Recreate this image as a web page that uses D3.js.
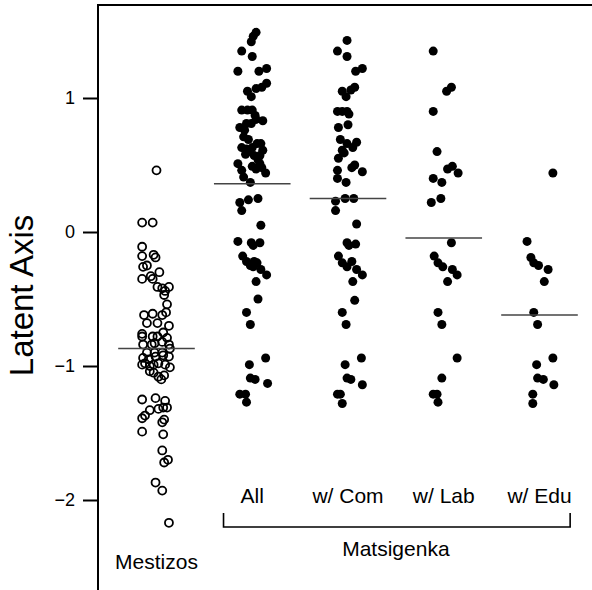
<!DOCTYPE html>
<html>
<head>
<meta charset="utf-8">
<script src="https://cdn.jsdelivr.net/npm/d3@7"></script>
<style>
  body { margin: 0; background: #fff; }
  svg { display: block; font-family: "Liberation Sans", Arial, sans-serif; }
</style>
</head>
<body>
<svg id="chart" width="592" height="590"></svg>
<script>
///////// Data (value on the latent axis, horizontal jitter in group units)
var groupLabels = ["Mestizos", "All", "w/ Com", "w/ Lab", "w/ Edu"]
var groupMeans = [-0.87, 0.36, 0.25, -0.045, -0.62]
var yTicks = [-2, -1, 0, 1]

var mestizoValue = [0.46,0.07,0.07,-0.11,-0.18,-0.17,-0.19,-0.26,-0.25,-0.30,
    -0.33,-0.35,-0.35,-0.41,-0.42,-0.41,-0.44,-0.47,-0.54,-0.62,
    -0.61,-0.62,-0.60,-0.68,-0.68,-0.70,-0.76,-0.78,-0.78,-0.78,
    -0.75,-0.79,-0.84,-0.84,-0.83,-0.82,-0.84,-0.87,-0.90,-0.90,
    -0.90,-0.94,-0.95,-0.93,-0.92,-0.93,-0.99,-0.98,-1.00,-0.99,
    -0.98,-0.99,-1.01,-1.04,-1.05,-1.08,-1.10,-1.07,-1.25,-1.24,
    -1.26,-1.31,-1.31,-1.32,-1.33,-1.37,-1.39,-1.42,-1.40,-1.49,
    -1.51,-1.63,-1.70,-1.72,-1.87,-1.93,-2.17]
var mestizoJitter = [0.00,-0.15,-0.04,-0.15,-0.15,-0.03,-0.01,-0.14,-0.10,0.03,
    -0.06,-0.15,-0.04,0.01,0.06,0.13,0.09,0.08,0.11,-0.13,
    -0.04,0.06,0.10,-0.10,0.01,0.13,-0.15,-0.15,-0.04,0.01,
    0.07,0.11,-0.14,-0.05,-0.02,0.06,0.13,0.14,-0.10,-0.02,
    0.06,-0.14,-0.08,-0.01,0.07,0.13,-0.15,-0.12,-0.07,-0.03,
    0.02,0.09,0.14,-0.07,-0.03,0.02,0.05,0.08,-0.15,-0.01,
    0.09,0.11,0.07,0.02,-0.07,-0.12,-0.15,0.06,0.08,-0.15,
    0.07,0.06,0.12,0.08,-0.01,0.06,0.13]

var allValue = [1.49,1.46,1.42,1.35,1.31,1.20,1.20,1.22,1.11,1.08,
    1.07,1.05,1.01,0.91,0.91,0.91,0.87,0.78,0.81,0.81,
    0.84,0.83,0.76,0.71,0.69,0.63,0.62,0.63,0.66,0.66,
    0.60,0.57,0.61,0.57,0.58,0.51,0.46,0.41,0.37,0.54,
    0.51,0.47,0.44,0.48,0.49,0.22,0.16,0.24,0.25,0.05,
    -0.07,-0.08,-0.10,-0.08,-0.18,-0.22,-0.25,-0.22,-0.23,-0.26,
    -0.28,-0.32,-0.37,-0.50,-0.60,-0.69,-0.94,-0.99,-1.09,-1.10,
    -1.13,-1.21,-1.21,-1.27]
var allJitter = [0.04,0.01,-0.01,-0.11,0.00,-0.15,0.07,0.15,0.15,0.10,
    0.04,-0.05,-0.01,-0.11,-0.05,0.00,0.03,-0.13,-0.06,-0.01,
    0.04,0.11,-0.08,-0.09,-0.04,-0.11,-0.06,0.00,0.05,0.09,
    -0.03,0.02,0.11,0.08,-0.07,-0.15,-0.11,-0.09,-0.02,0.06,
    0.08,0.04,0.14,0.10,0.00,-0.13,-0.11,-0.04,0.06,0.09,
    -0.15,-0.01,0.01,0.08,-0.10,-0.06,-0.02,0.02,0.05,0.01,
    0.09,0.15,0.04,0.06,-0.06,-0.02,0.14,-0.03,-0.02,0.03,
    0.16,-0.13,-0.07,-0.06]

var comValue = [1.43,1.35,1.31,1.20,1.22,1.05,1.08,1.06,1.01,0.90,
    0.90,0.90,0.88,0.78,0.80,0.69,0.66,0.67,0.61,0.59,
    0.63,0.55,0.50,0.45,0.48,0.46,0.40,0.37,0.23,0.25,
    0.25,0.16,0.06,-0.08,-0.10,-0.09,-0.18,-0.23,-0.26,-0.22,
    -0.28,-0.32,-0.37,-0.51,-0.60,-0.69,-0.94,-0.99,-1.09,-1.10,
    -1.14,-1.21,-1.21,-1.28]
var comJitter = [-0.01,-0.11,-0.01,0.08,0.15,-0.06,0.07,0.03,-0.02,-0.11,
    -0.06,-0.01,0.01,-0.10,0.00,-0.08,-0.01,0.09,-0.06,-0.04,
    0.05,-0.10,0.07,0.15,0.04,-0.11,-0.11,-0.02,-0.13,-0.03,
    0.06,-0.13,0.09,-0.01,0.01,0.08,-0.10,-0.06,-0.01,0.04,
    0.09,0.15,0.05,0.07,-0.06,-0.02,0.14,-0.03,-0.01,0.03,
    0.15,-0.11,-0.08,-0.06]

var labValue = [1.35,1.05,1.08,0.90,0.60,0.47,0.49,0.44,0.40,0.37,
    0.22,0.25,-0.08,-0.18,-0.23,-0.26,-0.28,-0.32,-0.37,-0.60,
    -0.69,-0.94,-1.09,-1.21,-1.21,-1.27]
var labJitter = [-0.11,0.03,0.08,-0.11,-0.07,0.04,0.09,0.15,-0.11,-0.02,
    -0.13,-0.03,0.08,-0.10,-0.06,-0.01,0.09,0.14,0.04,-0.06,
    -0.02,0.14,-0.02,-0.11,-0.07,-0.06]

var eduValue = [0.44,-0.07,-0.19,-0.23,-0.25,-0.28,-0.37,-0.60,-0.69,-0.94,
    -0.99,-1.09,-1.10,-1.14,-1.21,-1.28]
var eduJitter = [0.14,-0.13,-0.09,-0.06,-0.01,0.09,0.05,-0.06,-0.02,0.14,
    -0.03,-0.02,0.04,0.15,-0.07,-0.07]

var groups = [
    {values: mestizoValue, jitter: mestizoJitter, filled: false},
    {values: allValue, jitter: allJitter, filled: true},
    {values: comValue, jitter: comJitter, filled: true},
    {values: labValue, jitter: labJitter, filled: true},
    {values: eduValue, jitter: eduJitter, filled: true}
]

///////// Scales
var svg = d3.select("#chart")
var xScale = d3.scaleLinear().domain([1, 5]).range([156.5, 539.5])
var yScale = d3.scaleLinear().domain([-2, 1]).range([500, 98])
var frameLeft = 98, frameTop = 5

svg.append("rect").attr("width", 592).attr("height", 590).attr("fill", "#fff")

// plot frame (only the left and top sides are inside the picture)
svg.append("path")
    .attr("d", "M" + frameLeft + ",590V" + frameTop + "H600")
    .attr("fill", "none")
    .attr("stroke", "#000")
    .attr("stroke-width", 2)

var yAxis = svg.append("g")
    .attr("transform", "translate(" + frameLeft + ",0)")
    .call(d3.axisLeft(yScale).tickValues(yTicks).tickSize(15).tickPadding(8).tickFormat(d3.format("d")))
yAxis.select(".domain").remove()
yAxis.selectAll(".tick line").attr("stroke", "#000").attr("stroke-width", 2)
yAxis.selectAll(".tick text")
    .attr("fill", "#000")
    .style("font-size", "18px")
    .style("font-family", "'Liberation Sans', Arial, sans-serif")

svg.append("text")
    .attr("transform", "translate(33,295.5) rotate(-90)")
    .attr("text-anchor", "middle")
    .style("font-size", "33px")
    .text("Latent Axis")

///////// Points of each group
groups.forEach(function(g, i) {
    var pts = g.values.map(function(v, k) { return {v: v, j: g.jitter[k]} })
    svg.append("g").selectAll("circle")
        .data(pts)
        .enter()
        .append("circle")
        .attr("cx", function(d) { return xScale(i + 1 + d.j) })
        .attr("cy", function(d) { return yScale(d.v) })
        .attr("r", g.filled ? 4.5 : 4)
        .attr("fill", g.filled ? "#000" : "none")
        .attr("stroke", g.filled ? "none" : "#000")
        .attr("stroke-width", 1.8)
})

// group means
svg.append("g").selectAll("line")
    .data(groupMeans)
    .enter()
    .append("line")
    .attr("x1", function(d, i) { return xScale(i + 1 - 0.4) })
    .attr("x2", function(d, i) { return xScale(i + 1 + 0.4) })
    .attr("y1", function(d) { return yScale(d) })
    .attr("y2", function(d) { return yScale(d) })
    .attr("stroke", "#444")
    .attr("stroke-width", 1.5)

///////// Labels under the groups
svg.append("g").selectAll("text")
    .data(groupLabels)
    .enter()
    .append("text")
    .attr("x", function(d, i) { return xScale(i + 1) })
    .attr("y", function(d, i) { return i == 0 ? 569 : 503 })
    .attr("text-anchor", "middle")
    .style("font-size", "21px")
    .text(function(d) { return d })

// bracket over the Matsigenka subgroups
var bracketTop = 513, bracketBottom = 527
svg.append("path")
    .attr("d", "M" + xScale(1.7) + "," + bracketTop + "V" + bracketBottom +
               "H" + xScale(5.32) + "V" + bracketTop)
    .attr("fill", "none")
    .attr("stroke", "#000")
    .attr("stroke-width", 1.6)

svg.append("text")
    .attr("x", xScale(3.5))
    .attr("y", 556)
    .attr("text-anchor", "middle")
    .style("font-size", "21px")
    .text("Matsigenka")
</script>
</body>
</html>
